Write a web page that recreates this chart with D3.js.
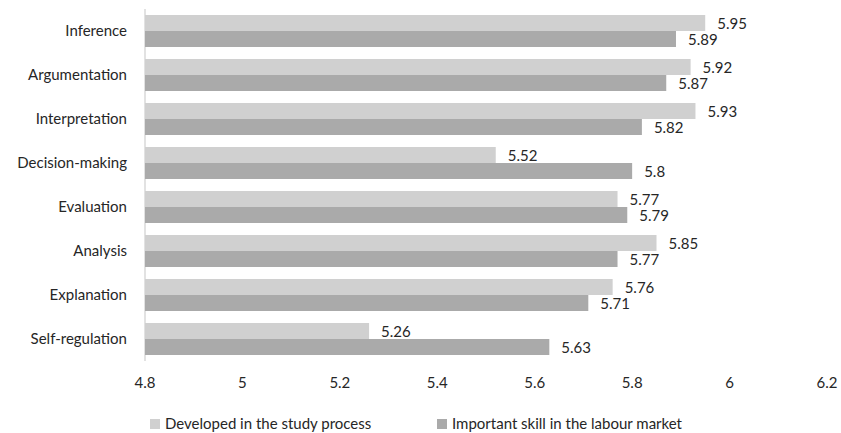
<!DOCTYPE html>
<html>
<head>
<meta charset="utf-8">
<script src="https://cdn.jsdelivr.net/npm/d3@7"></script>
<style>
  body { margin: 0; background: #fff; }
  svg text { font-family: Lato, "Open Sans", sans-serif; fill: #262626; }
</style>
</head>
<body>
<svg id="chart" width="841" height="433"></svg>
<script>
// Critical thinking skills: self-assessed development vs. labour-market importance
const categories = ["Inference", "Argumentation", "Interpretation", "Decision-making",
                    "Evaluation", "Analysis", "Explanation", "Self-regulation"];
const developed = [5.95, 5.92, 5.93, 5.52, 5.77, 5.85, 5.76, 5.26];
const important = [5.89, 5.87, 5.82, 5.80, 5.79, 5.77, 5.71, 5.63];
const seriesNames = ["Developed in the study process", "Important skill in the labour market"];
const xTicks = [4.8, 5, 5.2, 5.4, 5.6, 5.8, 6, 6.2];

const colors = ["#d0d0d0", "#aaaaaa"];
const fontSize = 15;
const svg = d3.select("#chart");

const x = d3.scaleLinear().domain([4.8, 6.2]).range([145, 827]);
const y = d3.scaleBand().domain(categories).range([9, 361]).paddingInner(12 / 44).paddingOuter(6 / 44);
const sub = d3.scaleBand().domain([0, 1]).range([0, y.bandwidth()]);

// Category axis line
svg.append("line")
  .attr("x1", x(4.8)).attr("x2", x(4.8))
  .attr("y1", 9).attr("y2", 361)
  .attr("stroke", "#d9d9d9").attr("stroke-width", 1.5);

// Category labels
svg.append("g").selectAll("text").data(categories).join("text")
  .attr("x", 127)
  .attr("y", d => y(d) + y.bandwidth() / 2)
  .attr("dy", "0.35em")
  .attr("text-anchor", "end")
  .attr("font-size", fontSize)
  .text(d => d);

// Bars + value labels for each series
[developed, important].forEach((vals, s) => {
  const g = svg.append("g");
  g.selectAll("rect").data(vals).join("rect")
    .attr("x", x(4.8))
    .attr("y", (d, i) => y(categories[i]) + sub(s))
    .attr("width", d => x(d) - x(4.8))
    .attr("height", sub.bandwidth())
    .attr("fill", colors[s]);
  g.selectAll("text").data(vals).join("text")
    .attr("x", d => x(d) + 12)
    .attr("y", (d, i) => y(categories[i]) + sub(s) + sub.bandwidth() / 2 + 1)
    .attr("dy", "0.35em")
    .attr("font-size", fontSize)
    .text(d => d3.format("")(d));
});

// Value axis tick labels (no line)
svg.append("g").selectAll("text").data(xTicks).join("text")
  .attr("x", d => x(d))
  .attr("y", 383)
  .attr("dy", "0.35em")
  .attr("text-anchor", "middle")
  .attr("font-size", fontSize)
  .text(d => d);

// Legend
const legendX = [150, 437];
const lg = svg.append("g").selectAll("g").data(seriesNames).join("g")
  .attr("transform", (d, i) => `translate(${legendX[i]},424)`);
lg.append("rect").attr("x", 0).attr("y", -5).attr("width", 10).attr("height", 10)
  .attr("fill", (d, i) => colors[i]);
lg.append("text").attr("x", 15).attr("dy", "0.35em").attr("font-size", fontSize).text(d => d);
</script>
</body>
</html>
